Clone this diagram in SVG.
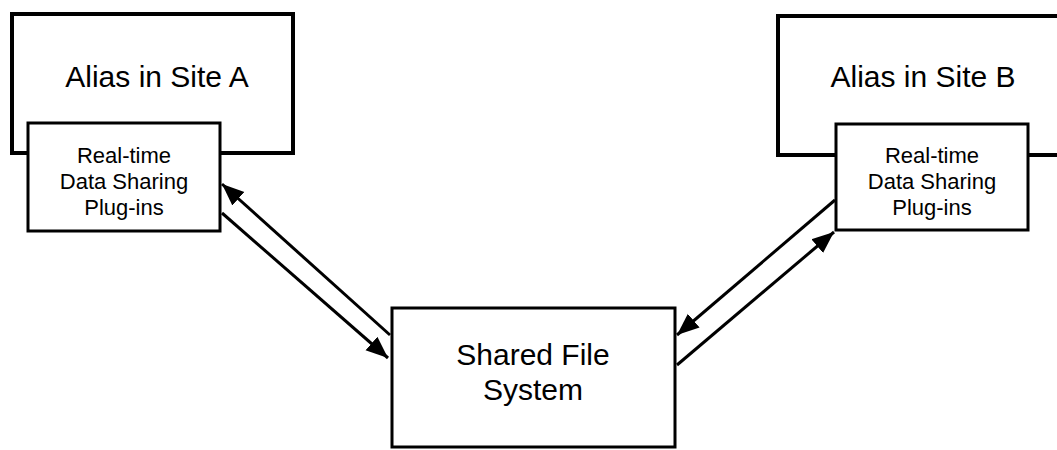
<svg xmlns="http://www.w3.org/2000/svg" width="1057" height="450" viewBox="0 0 1057 450">
<style>
.outer{fill:#fff;stroke:#000;stroke-width:4}
.box{fill:#fff;stroke:#000;stroke-width:3}
.big{font-family:"Liberation Sans",Arial,sans-serif;font-size:30px;text-anchor:middle;fill:#000}
.small{font-family:"Liberation Sans",Arial,sans-serif;font-size:22px;text-anchor:middle;fill:#000}
.conn{fill:none;stroke:#000;stroke-width:3}
</style>
<defs>
<marker id="arr" markerUnits="userSpaceOnUse" markerWidth="24" markerHeight="20" refX="22" refY="10" orient="auto">
<path d="M0,1 L22,10 L0,19 Z" fill="#000"/>
</marker>
</defs>
<rect width="1057" height="450" fill="#fff"/>
<g id="siteA">
<rect class="outer" x="12" y="14" width="281" height="139"/>
<text class="big" x="157" y="87">Alias in Site A</text>
</g>
<g id="pluginA">
<rect class="box" x="28" y="123" width="192" height="108"/>
<text class="small" x="124" y="163">Real-time</text>
<text class="small" x="124" y="189">Data Sharing</text>
<text class="small" x="124" y="215">Plug-ins</text>
</g>
<g id="siteB">
<rect class="outer" x="778" y="16" width="300" height="139"/>
<text class="big" x="923" y="87">Alias in Site B</text>
</g>
<g id="pluginB">
<rect class="box" x="836" y="124" width="192" height="106"/>
<text class="small" x="932" y="163">Real-time</text>
<text class="small" x="932" y="189">Data Sharing</text>
<text class="small" x="932" y="215">Plug-ins</text>
</g>
<g id="sharedFS">
<rect class="box" x="392" y="308" width="283" height="139" stroke-width="3.5"/>
<text class="big" x="533" y="365">Shared File</text>
<text class="big" x="533" y="400">System</text>
</g>
<g id="connectors">
<line class="conn" x1="390" y1="335" x2="222" y2="184" marker-end="url(#arr)"/>
<line class="conn" x1="222" y1="213" x2="388" y2="358" marker-end="url(#arr)"/>
<line class="conn" x1="835" y1="200" x2="677" y2="335" marker-end="url(#arr)"/>
<line class="conn" x1="677" y1="365" x2="834" y2="232" marker-end="url(#arr)"/>
</g>
</svg>
